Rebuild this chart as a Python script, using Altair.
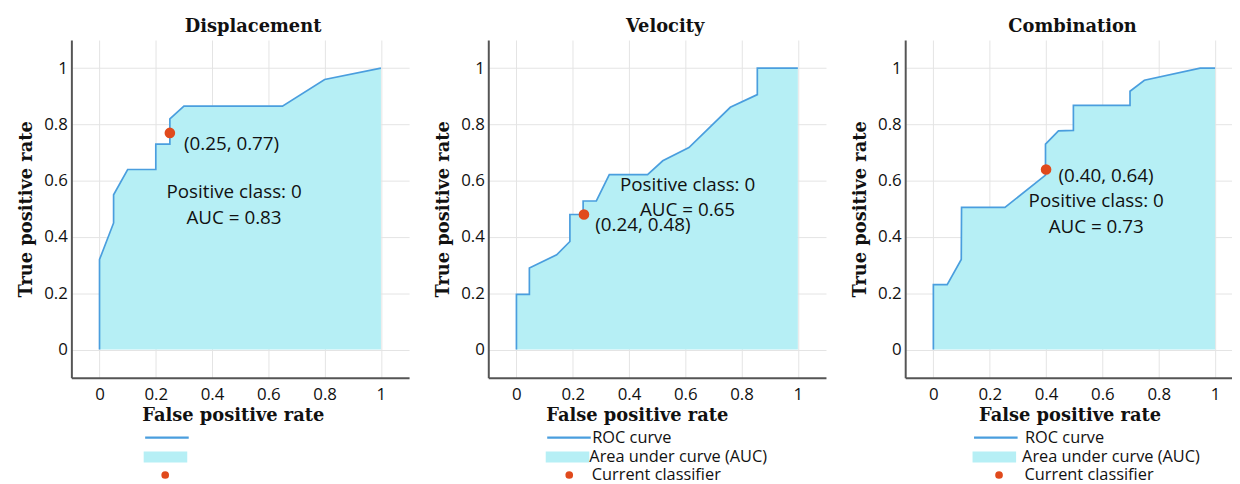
import altair as alt
import pandas as pd

# ---------------- data ----------------
titles = ["Displacement", "Velocity", "Combination"]

disp_fpr = [0.0, 0.0, 0.05, 0.05, 0.10, 0.20, 0.20, 0.25, 0.25, 0.30, 0.65, 0.80, 1.0]
disp_tpr = [0.0, 0.32, 0.45, 0.55, 0.64, 0.64, 0.73, 0.73, 0.82, 0.865, 0.865, 0.96, 1.0]

vel_fpr = [0.0, 0.0, 0.046, 0.046, 0.143, 0.19, 0.19, 0.237, 0.237, 0.284, 0.33, 0.466, 0.52, 0.613, 0.76, 0.856, 0.856, 1.0]
vel_tpr = [0.0, 0.196, 0.196, 0.29, 0.337, 0.384, 0.48, 0.48, 0.528, 0.528, 0.622, 0.622, 0.671, 0.718, 0.861, 0.906, 1.0, 1.0]

comb_fpr = [0.0, 0.0, 0.049, 0.099, 0.10, 0.254, 0.398, 0.398, 0.444, 0.497, 0.497, 0.698, 0.698, 0.749, 0.947, 1.0]
comb_tpr = [0.0, 0.231, 0.231, 0.32, 0.505, 0.505, 0.62, 0.73, 0.777, 0.779, 0.868, 0.868, 0.918, 0.957, 1.0, 1.0]

point_x = [0.25, 0.24, 0.40]
point_y = [0.77, 0.48, 0.64]
point_labels = ["(0.25, 0.77)", "(0.24, 0.48)", "(0.40, 0.64)"]
point_label_x = [0.30, 0.28, 0.444]
point_label_y = [0.73, 0.443, 0.616]

auc_labels = ["AUC = 0.83", "AUC = 0.65", "AUC = 0.73"]
class_label = "Positive class: 0"
info_x = [0.478, 0.608, 0.578]
class_y = [0.56, 0.583, 0.528]
auc_y = [0.466, 0.496, 0.437]

tick_values = [0, 0.2, 0.4, 0.6, 0.8, 1]
legend_labels = ["ROC curve", "Area under curve (AUC)", "Current classifier"]
show_legend_labels = [False, True, True]

curves = [(disp_fpr, disp_tpr), (vel_fpr, vel_tpr), (comb_fpr, comb_tpr)]

# ---------------- style ----------------
FILL = "#b6eff5"
LINE = "#4a9ede"
DOT = "#e04a1c"
SANS = "Open Sans"
SERIF = "DejaVu Serif"
H = 341
widths = [341, 341, 330]
x_max = [1.1, 1.1, 1.06]
legend_x = [73, 58, 68]
legend_lab_off = [0, 0, 6]
dot_leg_x = [86.5, 73.5, 86.5]
dot_lab_off = [14.5, 14.5, 17.5]
xtitle_x = [163, 150, 166]
title_dx = [13, 8, 4]
BOLD_SIZE = 18
TICK_SIZE = 17
TEXT_SIZE = 19
LEG_SIZE = 16.5


def panel(i):
    fpr, tpr = curves[i]
    df = pd.DataFrame({"fpr": fpr, "tpr": tpr, "order": list(range(len(fpr))),
                       "lineLab": legend_labels[0], "fillLab": legend_labels[1]})
    pt = pd.DataFrame({"x": [point_x[i]], "y": [point_y[i]], "dotLab": [legend_labels[2]]})
    lab = pd.DataFrame({"x": [point_label_x[i]], "y": [point_label_y[i]], "t": [point_labels[i]]})
    info = pd.DataFrame({"x": [info_x[i], info_x[i]], "y": [class_y[i], auc_y[i]],
                         "t": [class_label, auc_labels[i]]})

    xs = alt.Scale(domain=[-0.1, x_max[i]], nice=False, zero=False)
    ys = alt.Scale(domain=[-0.1, 1.1], nice=False, zero=False)
    common = dict(values=tick_values, format="~g", grid=True, gridColor="#e4e4e4",
                  ticks=False, domainColor="#555555", domainWidth=2, labelFont=SANS,
                  labelFontSize=TICK_SIZE, labelColor="#111", titleFont=SERIF,
                  titleFontWeight="bold", titleFontSize=BOLD_SIZE, titleColor="#111",
                  labelFlush=False)
    xax = alt.Axis(title="False positive rate", labelPadding=9, titlePadding=4,
                   titleX=xtitle_x[i], **common)
    yax = alt.Axis(title="True positive rate", labelPadding=4, titlePadding=8, **common)

    lblexpr = "datum.label" if show_legend_labels[i] else "''"
    lx = legend_x[i]
    lo = legend_lab_off[i]
    leg_common = dict(title=None, orient="none", labelFont=SANS, labelFontSize=LEG_SIZE,
                      labelColor="#111", labelExpr=lblexpr, labelLimit=400, padding=0)

    area = alt.Chart(df).mark_area(opacity=1, interpolate="linear").encode(
        x=alt.X("fpr:Q", scale=xs, axis=xax, sort=None),
        y=alt.Y("tpr:Q", scale=ys, axis=yax, stack=None),
        fill=alt.Fill("fillLab:N", scale=alt.Scale(range=[FILL]),
                      legend=alt.Legend(legendX=lx, legendY=H + 58,
                                        symbolType="M-1,-0.25H1V0.25H-1Z", symbolSize=1936,
                                        symbolStrokeWidth=0, symbolOpacity=1,
                                        labelOffset=lo, **leg_common)),
    )
    line = alt.Chart(df).mark_line(strokeWidth=1.7).encode(
        x="fpr:Q", y="tpr:Q", order="order:Q",
        stroke=alt.Stroke("lineLab:N", scale=alt.Scale(range=[LINE]),
                          legend=alt.Legend(legendX=lx, legendY=H + 37,
                                            symbolType="M-1,0H1", symbolSize=1936,
                                            symbolStrokeWidth=2.5, labelOffset=lo,
                                            **leg_common)),
    )
    dot = alt.Chart(pt).mark_circle(size=115, opacity=1).encode(
        x="x:Q", y="y:Q",
        color=alt.Color("dotLab:N", scale=alt.Scale(range=[DOT]),
                        legend=alt.Legend(legendX=dot_leg_x[i], legendY=H + 90,
                                          symbolType="circle", symbolSize=60, symbolOpacity=1,
                                          labelOffset=dot_lab_off[i], **leg_common)),
    )
    ptxt = alt.Chart(lab).mark_text(align="left", baseline="middle", font=SANS,
                                    fontSize=TEXT_SIZE, color="#111").encode(
        x="x:Q", y="y:Q", text="t:N")
    itxt = alt.Chart(info).mark_text(align="center", baseline="middle", font=SANS,
                                     fontSize=TEXT_SIZE, color="#111").encode(
        x="x:Q", y="y:Q", text="t:N")

    return alt.layer(area, line, dot, ptxt, itxt).properties(
        width=widths[i], height=H,
        title=alt.TitleParams(titles[i], font=SERIF, fontWeight="bold", fontSize=BOLD_SIZE,
                              color="#111", anchor="middle", offset=4, dx=title_dx[i]),
    ).resolve_scale(fill="independent", stroke="independent", color="independent")


chart = alt.hconcat(panel(0), panel(1), panel(2), spacing=26).resolve_scale(
    fill="independent", stroke="independent", color="independent", x="independent"
).resolve_legend(fill="independent", stroke="independent", color="independent").configure_view(
    stroke=None
).properties(padding={"left": 10, "top": 8, "right": 0, "bottom": 0})

chart.save("out.html", embed_options={"renderer": "svg", "actions": False})
